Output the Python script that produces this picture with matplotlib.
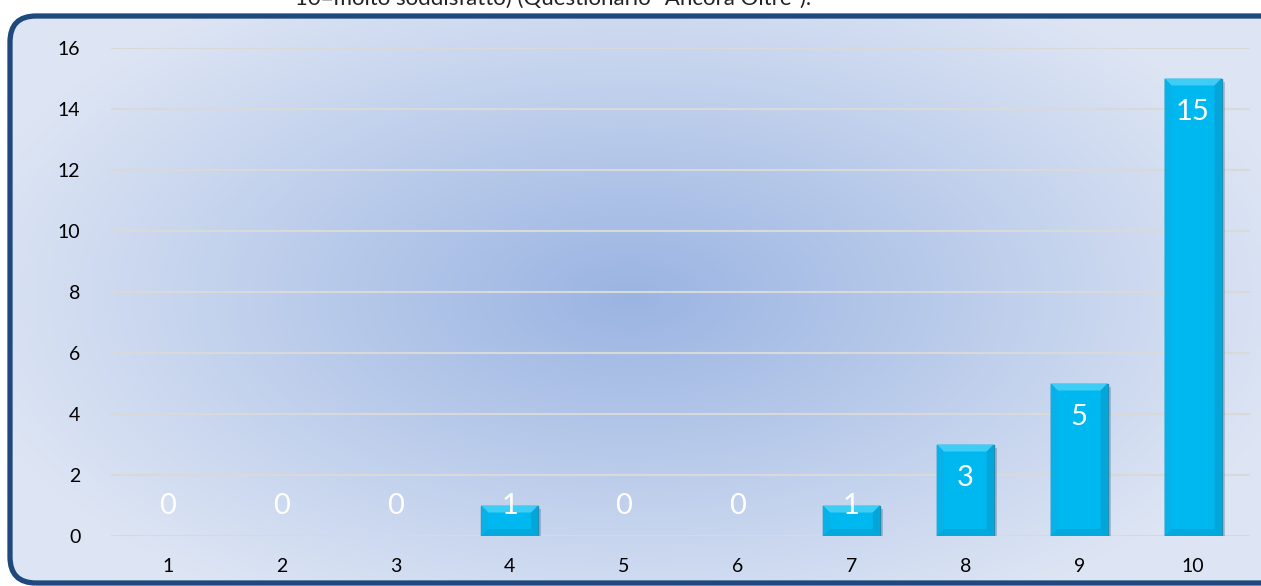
import numpy as np
import matplotlib.pyplot as plt
from matplotlib.patches import FancyBboxPatch, Polygon

plt.rcParams['font.family'] = ['Lato', 'DejaVu Sans']

categories = ['1', '2', '3', '4', '5', '6', '7', '8', '9', '10']
values = [0, 0, 0, 1, 0, 0, 1, 3, 5, 15]
y_ticks = [0, 2, 4, 6, 8, 10, 12, 14, 16]
title_tail = '10=molto soddisfatto) (Questionario "Ancora Oltre").'

W, H = 1261, 586
fig = plt.figure(figsize=(W / 100, H / 100), dpi=100, facecolor='white')

# background with rounded frame and radial gradient
bg = fig.add_axes([0, 0, 1, 1])
bg.set_xlim(0, W)
bg.set_ylim(0, H)
bg.axis('off')

gx, gy = np.meshgrid(np.linspace(0, W, 400), np.linspace(0, H, 200))
r = np.sqrt(((gx - 630) / 680) ** 2 + ((gy - 290) / 360) ** 2)
r = np.clip(r, 0, 1)
c_in = np.array([0x9a, 0xb4, 0xe2]) / 255
c_out = np.array([0xdd, 0xe5, 0xf4]) / 255
img = c_in[None, None, :] * (1 - r[..., None]) + c_out[None, None, :] * r[..., None]

frame = FancyBboxPatch((10, 3), W + 30, 567, boxstyle='round,pad=0,rounding_size=26',
                       facecolor='none', edgecolor='#1f497d', linewidth=3.8, zorder=3)
bg.add_patch(frame)
im = bg.imshow(img, extent=(0, W, 0, H), origin='lower', aspect='auto', zorder=1)
im.set_clip_path(frame)

bg.text(553, H + 1, title_tail, ha='center', va='center', fontsize=16, color='#222222')

# chart
ax = fig.add_axes([111 / W, 50 / H, (1250 - 111) / W, (538 - 50) / H])
ax.patch.set_alpha(0)
x = np.arange(len(categories))
ax.set_xlim(-0.5, len(categories) - 0.5)
ax.set_ylim(0, 16)
ax.set_yticks(y_ticks)
ax.set_xticks(x)
ax.set_xticklabels(categories)
ax.tick_params(length=0, labelsize=14, colors='black')
ax.tick_params(axis='y', pad=22)
ax.tick_params(axis='x', pad=16)
for s in ax.spines.values():
    s.set_visible(False)
ax.grid(axis='y', color='#d9d9d9', linewidth=1.5)
ax.set_axisbelow(True)

bars = ax.bar(x, values, width=0.5, color='#00b8f0', edgecolor='#1d8db0',
              linewidth=[1.0 if v else 0 for v in values], zorder=3)

# bevel / shadow, computed from each bar
inv = ax.transData.inverted()
(x0, y0), (x1, y1) = inv.transform([(0, 0), (7, 7)])
bx, by = x1 - x0, y1 - y0
(sx0, sy0), (sx1, sy1) = inv.transform([(0, 0), (3, 3)])
dx, dy = sx1 - sx0, sy1 - sy0
for b, v in zip(bars, values):
    if v == 0:
        continue
    l, w, h = b.get_x(), b.get_width(), b.get_height()
    rt = l + w
    shadow = Polygon([(l + dx, -dy), (rt + dx, -dy), (rt + dx, h - dy), (l + dx, h - dy)],
                     closed=True, facecolor='#3a5a80', alpha=0.3, edgecolor='none', zorder=2.5)
    ax.add_patch(shadow)
    top = Polygon([(l, h), (rt, h), (rt - bx, h - by), (l + bx, h - by)],
                  closed=True, facecolor='#3fcdf5', edgecolor='none', zorder=3.5)
    bot = Polygon([(l, 0), (rt, 0), (rt - bx, by), (l + bx, by)],
                  closed=True, facecolor='#03a8dc', edgecolor='none', zorder=3.5)
    lft = Polygon([(l, 0), (l + bx, by), (l + bx, h - by), (l, h)],
                  closed=True, facecolor='#08b2e8', edgecolor='none', zorder=3.5)
    rgt = Polygon([(rt, 0), (rt - bx, by), (rt - bx, h - by), (rt, h)],
                  closed=True, facecolor='#04a6da', edgecolor='none', zorder=3.5)
    for p in (top, bot, lft, rgt):
        ax.add_patch(p)

for xi, v in zip(x, values):
    ax.text(xi, max(v - 1.1, 1.0), str(v), ha='center', va='center',
            fontsize=21, color='white', zorder=5)

fig.savefig('out.png', dpi=100, facecolor='white')
